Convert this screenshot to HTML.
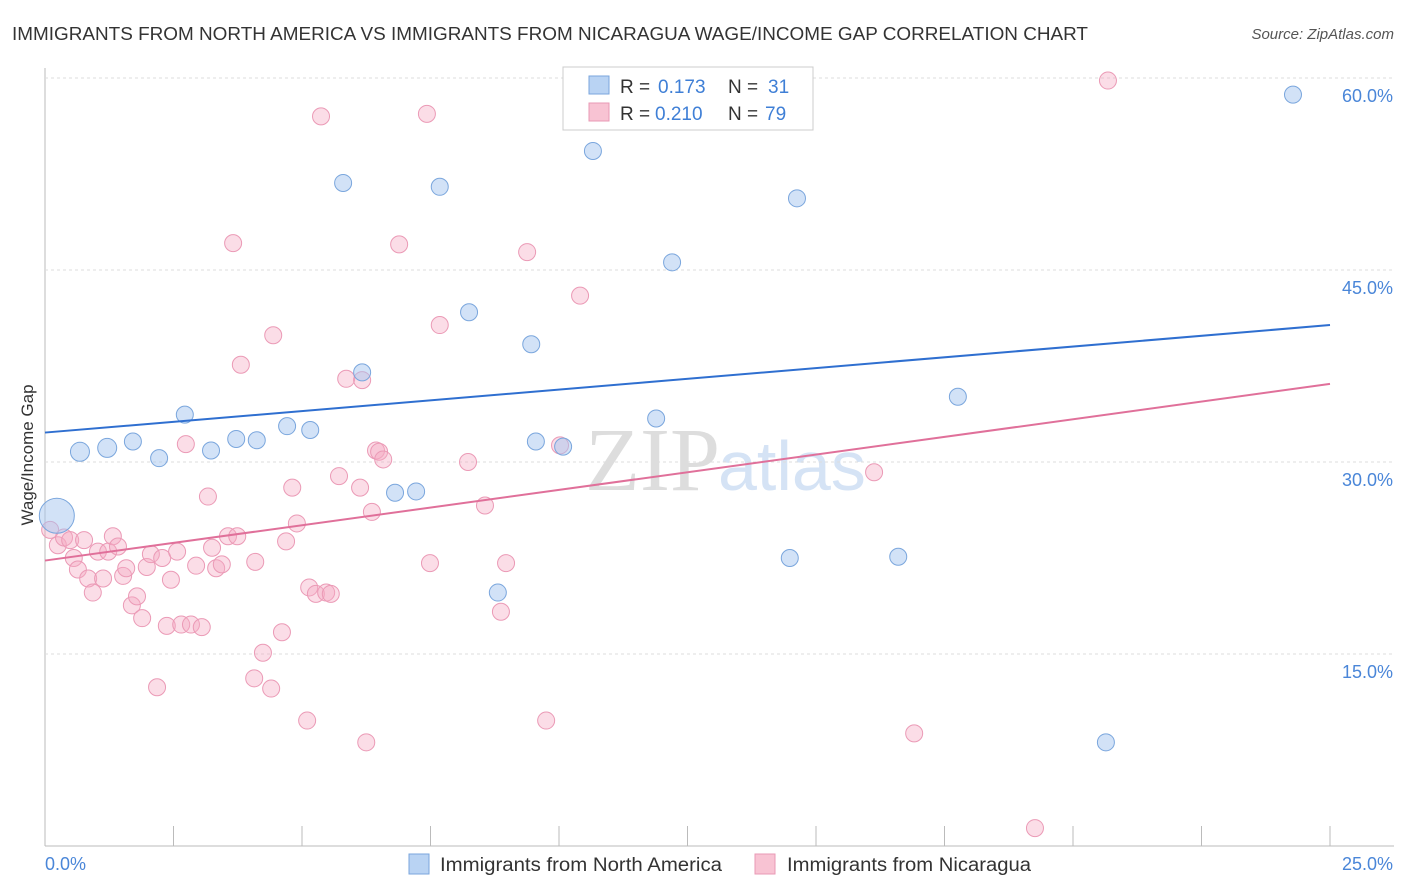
<!DOCTYPE html>
<html><head><meta charset="utf-8"><style>
body{margin:0;background:#fff;font-family:"Liberation Sans",sans-serif}
svg{display:block}
</style></head><body>
<svg id="c" width="1406" height="892" xmlns="http://www.w3.org/2000/svg">
<text x="12" y="40" font-size="18" fill="#333" textLength="1076" lengthAdjust="spacingAndGlyphs">IMMIGRANTS FROM NORTH AMERICA VS IMMIGRANTS FROM NICARAGUA WAGE/INCOME GAP CORRELATION CHART</text>
<text x="1394" y="39" font-size="15" fill="#555" font-style="italic" text-anchor="end">Source: ZipAtlas.com</text>
<text x="720" y="490" font-size="90" fill="#ddd" text-anchor="end" font-family="Liberation Serif">ZIP</text>
<text x="718" y="490" font-size="70" fill="#d5e3f5">atlas</text>
<text transform="translate(33,455) rotate(-90)" font-size="17" fill="#333" text-anchor="middle">Wage/Income Gap</text>
<g id="grid"></g><g id="pts"></g><g id="lines"></g>
<g>
<rect x="563" y="67" width="250" height="63" fill="#fff" stroke="#ccc"/>
<rect x="589" y="76" width="20" height="18" fill="#b9d3f3" stroke="#7aa6dd"/>
<rect x="589" y="103" width="20" height="18" fill="#f8c3d3" stroke="#e99ab5"/>
<text x="620" y="93" font-size="19" fill="#333">R =</text>
<text x="658" y="93" font-size="19" fill="#3f7fd6">0.173</text>
<text x="728" y="93" font-size="19" fill="#333">N =</text>
<text x="768" y="93" font-size="19" fill="#3f7fd6">31</text>
<text x="620" y="120" font-size="19" fill="#333">R =</text>
<text x="655" y="120" font-size="19" fill="#3f7fd6">0.210</text>
<text x="728" y="120" font-size="19" fill="#333">N =</text>
<text x="765" y="120" font-size="19" fill="#3f7fd6">79</text>
</g>
<g>
<rect x="409" y="854" width="20" height="20" fill="#b9d3f3" stroke="#7aa6dd"/>
<text x="440" y="871" font-size="19" fill="#333" textLength="282" lengthAdjust="spacingAndGlyphs">Immigrants from North America</text>
<rect x="755" y="854" width="20" height="20" fill="#f8c3d3" stroke="#e99ab5"/>
<text x="787" y="871" font-size="19" fill="#333" textLength="244" lengthAdjust="spacingAndGlyphs">Immigrants from Nicaragua</text>
</g>
</svg>
<script>
const xTicks=[0,2.5,5,7.5,10,12.5,15,17.5,20,22.5,25];
const yTicks=[15,30,45,60];
const yTickLabels=["15.0%","30.0%","45.0%","60.0%"];
const xTickLabels=["0.0%","25.0%"];
const blueX=[0.68,1.21,1.71,2.22,2.72,3.23,3.72,4.12,4.71,5.16,5.80,6.17,6.81,7.22,7.68,8.25,8.81,9.46,9.55,10.08,10.66,11.89,12.20,13.00,14.49,14.63,16.60,17.76,20.64,24.28,0.23];
const blueY=[30.8,31.1,31.6,30.3,33.7,30.9,31.8,31.7,32.8,32.5,51.8,37.0,27.6,27.7,51.5,41.7,19.8,39.2,31.6,31.2,54.3,33.4,45.6,58.7,22.5,50.6,22.6,35.1,8.1,58.7,25.8];
const blueR=[9,9,8,8,8,8,8,8,8,8,8,8,8,8,8,8,8,8,8,8,8,8,8,8,8,8,8,8,8,8,17];
const pinkX=[0.10,0.25,0.37,0.49,0.56,0.64,0.76,0.84,0.93,1.03,1.13,1.23,1.32,1.42,1.52,1.58,1.69,1.79,1.89,1.98,2.06,2.18,2.28,2.37,2.45,2.57,2.65,2.74,2.84,2.94,3.05,3.17,3.25,3.33,3.44,3.56,3.66,3.74,3.81,4.07,4.09,4.24,4.40,4.44,4.61,4.69,4.81,4.90,5.10,5.14,5.27,5.37,5.47,5.56,5.72,5.86,6.13,6.17,6.25,6.36,6.44,6.50,6.58,6.89,7.43,7.49,7.68,8.23,8.56,8.87,8.97,9.38,9.75,10.02,10.41,16.13,16.91,19.26,20.68];
const pinkY=[24.7,23.5,24.1,23.9,22.5,21.6,23.9,20.9,19.8,23.0,20.9,23.0,24.2,23.4,21.1,21.7,18.8,19.5,17.8,21.8,22.8,12.4,22.5,17.2,20.8,23.0,17.3,31.4,17.3,21.9,17.1,27.3,23.3,21.7,22.0,24.2,47.1,24.2,37.6,13.1,22.2,15.1,12.3,39.9,16.7,23.8,28.0,25.2,9.8,20.2,19.7,57.0,19.8,19.7,28.9,36.5,28.0,36.4,8.1,26.1,30.9,30.8,30.2,47.0,57.2,22.1,40.7,30.0,26.6,18.3,22.1,46.4,9.8,31.3,43.0,29.2,8.8,1.4,59.8];
const trendBlue=[32.3,40.7];
const trendPink=[22.3,36.1];
const NS="http://www.w3.org/2000/svg";
const sx=v=>45+v/25*1285, sy=v=>846-v/15*192;
function mk(t,a,p){const e=document.createElementNS(NS,t);for(const k in a)e.setAttribute(k,a[k]);document.getElementById(p).appendChild(e);return e;}
let e;
e=mk('line',{x1:45,y1:846,x2:1394,y2:846,stroke:'#bbb'},'grid');


e=mk('line',{x1:45,y1:68,x2:45,y2:846,stroke:'#bbb'},'grid');


xTicks.forEach(v=>{e=mk('line',{x1:sx(v),y1:826,x2:sx(v),y2:846,stroke:'#bbb'},'grid');

});
yTicks.forEach((v,i)=>{e=mk('line',{x1:45,y1:sy(v),x2:1394,y2:sy(v),stroke:'#ddd','stroke-dasharray':'3,3'},'grid');


e=mk('text',{x:1393,y:sy(v)+24,'font-size':18,fill:'#4a86d8','text-anchor':'end'},'grid');e.textContent=yTickLabels[i];

});
e=mk('text',{x:45,y:870,'font-size':18,fill:'#4a86d8'},'grid');e.textContent=xTickLabels[0];


e=mk('text',{x:1393,y:870,'font-size':18,fill:'#4a86d8','text-anchor':'end'},'grid');e.textContent=xTickLabels[1];


pinkX.forEach((v,i)=>{e=mk('circle',{cx:sx(v),cy:sy(pinkY[i]),r:8.5,fill:'rgba(245,170,195,0.4)',stroke:'#eb9ab6','stroke-width':1},'pts');

});
blueX.forEach((v,i)=>{e=mk('circle',{cx:sx(v),cy:sy(blueY[i]),r:blueR[i]+0.5,fill:'rgba(165,198,240,0.5)',stroke:'#7aa6dd','stroke-width':1},'pts');

});
e=mk('line',{x1:sx(0),y1:sy(trendBlue[0]),x2:sx(25),y2:sy(trendBlue[1]),stroke:'#2f6fd0','stroke-width':2},'lines');


e=mk('line',{x1:sx(0),y1:sy(trendPink[0]),x2:sx(25),y2:sy(trendPink[1]),stroke:'#e0709a','stroke-width':2},'lines');


</script>
</body></html>
